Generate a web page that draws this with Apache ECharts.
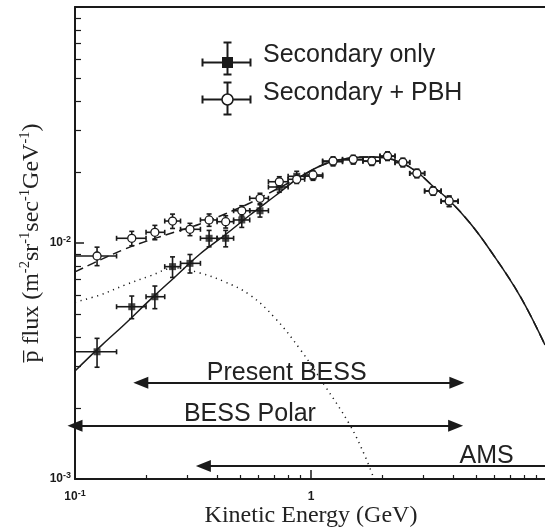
<!DOCTYPE html>
<html>
<head>
<meta charset="utf-8">
<script src="https://cdn.jsdelivr.net/npm/echarts@6/dist/echarts.min.js"></script>
<style>
html,body{margin:0;padding:0;background:#fff;}
#chart{width:545px;height:529px;}
</style>
</head>
<body>
<div id="chart"></div>
<script>
// ---- data ----
const energy = [0.124, 0.174, 0.218, 0.259, 0.307, 0.370, 0.435, 0.509, 0.608, 0.734, 0.870, 1.02, 1.24, 1.51, 1.81, 2.11, 2.45, 2.81, 3.29, 3.85];
const binLow  = [0.10, 0.15, 0.20, 0.24, 0.28, 0.34, 0.40, 0.47, 0.55, 0.66, 0.80, 0.94, 1.12, 1.36, 1.66, 1.96, 2.27, 2.62, 3.03, 3.56];
const binHigh = [0.15, 0.20, 0.24, 0.28, 0.34, 0.40, 0.47, 0.55, 0.66, 0.80, 0.94, 1.12, 1.36, 1.66, 1.96, 2.27, 2.62, 3.03, 3.56, 4.20];
const fluxSecondary = [0.00346, 0.00537, 0.00592, 0.00794, 0.00820, 0.01047, 0.01047, 0.01252, 0.01370, 0.01727, 0.01917, 0.0192, 0.0221, 0.0225, 0.0222, 0.0233, 0.0219, 0.0197, 0.0166, 0.0150];
const errSecondary  = [0.14, 0.11, 0.11, 0.10, 0.09, 0.08, 0.08, 0.07, 0.06, 0.05, 0.05, 0.04, 0.04, 0.04, 0.04, 0.04, 0.04, 0.04, 0.04, 0.05];
const fluxPBH = [0.00881, 0.01047, 0.01110, 0.01239, 0.01143, 0.01252, 0.01231, 0.01370, 0.01547, 0.01818, 0.01862, 0.01942, 0.02226, 0.02263, 0.02226, 0.02337, 0.02198, 0.01974, 0.01661, 0.01507];
const errPBH  = [0.09, 0.07, 0.07, 0.07, 0.06, 0.06, 0.06, 0.05, 0.05, 0.05, 0.04, 0.04, 0.04, 0.04, 0.04, 0.04, 0.04, 0.04, 0.04, 0.05];

// model curves
const curveSecE = [0.1, 0.1276, 0.1628, 0.2078, 0.2652, 0.3386, 0.4321, 0.5514, 0.7038, 0.8982, 1.146, 1.463, 1.744, 2.058, 2.383, 2.813, 3.353, 3.882, 4.717, 5.734, 7.686, 9.806];
const curveSecF = [0.00287, 0.00363, 0.00454, 0.00574, 0.00718, 0.00898, 0.01081, 0.01314, 0.01582, 0.01904, 0.02162, 0.02292, 0.02314, 0.02292, 0.02204, 0.01999, 0.01710, 0.01507, 0.01215, 0.00934, 0.00596, 0.00370];
const curveTotE = [0.1, 0.1276, 0.1628, 0.2078, 0.2652, 0.3386, 0.4321, 0.5514, 0.7038, 0.8982, 1.146, 1.463, 1.744, 2.058, 2.383, 2.813, 3.353, 3.882, 4.717, 5.734, 7.686, 9.806];
const curveTotF = [0.00754, 0.00847, 0.00943, 0.01030, 0.01113, 0.01204, 0.01327, 0.01477, 0.01677, 0.01904, 0.02162, 0.02292, 0.02314, 0.02292, 0.02204, 0.01999, 0.01710, 0.01507, 0.01215, 0.00934, 0.00596, 0.00370];
const curvePbhE = [0.1, 0.1276, 0.1628, 0.2078, 0.2652, 0.3386, 0.4321, 0.5514, 0.7038, 0.8982, 1.146, 1.463, 1.694, 1.849];
const curvePbhF = [0.00562, 0.00602, 0.00664, 0.00725, 0.00784, 0.00746, 0.00684, 0.00602, 0.00481, 0.00355, 0.00248, 0.00169, 0.00125, 0.00100];

// experiment ranges (arrows)
const rangeNames = ['Present BESS', 'BESS Polar', 'AMS'];
const rangeFrom  = [0.19, 0.10, 0.35];
const rangeTo    = [4.15, 4.10, 10];
const rangeFlux  = [0.00256, 0.00168, 0.001135];
const rangeLabelE = [0.789, 0.551, 5.55];
const rangeLabelF = [0.00282, 0.00188, 0.00125];

// axes ticks
const xMajorTicks = [0.1, 1, 10];
const xLabelTicks = [0.1, 1];
const xMinorTicks = [0.2, 0.3, 0.4, 0.5, 0.6, 0.7, 0.8, 0.9, 2, 3, 4, 5, 6, 7, 8, 9];
const yMajorTicks = [0.001, 0.01, 0.1];
const yLabelTicks = [0.001, 0.01];
const yMinorTicks = [0.002, 0.003, 0.004, 0.005, 0.006, 0.007, 0.008, 0.009, 0.02, 0.03, 0.04, 0.05, 0.06, 0.07, 0.08, 0.09];

const INK = '#1a1a1a';
const chart = echarts.init(document.getElementById('chart'), null, {renderer: 'canvas'});

function tickFmt(v) {
  if (Math.abs(v - 1) < 1e-9) return '{b|1}';
  const e = Math.round(Math.log10(v));
  return '{b|10}{s|' + e + '}';
}
const tickRich = {
  b: {fontFamily: 'Liberation Sans', fontWeight: 'bold', fontSize: 12, color: INK, lineHeight: 16},
  s: {fontFamily: 'Liberation Sans', fontWeight: 'bold', fontSize: 9, color: INK, lineHeight: 10, verticalAlign: 'top'}
};

function errData(flux, err) {
  return energy.map((e, i) => [e, flux[i], binLow[i], binHigh[i], flux[i] * (1 - err[i]), flux[i] * (1 + err[i])]);
}
function renderErr(params, api) {
  const x = api.value(0), y = api.value(1);
  const pl = api.coord([api.value(2), y]);
  const ph = api.coord([api.value(3), y]);
  const pb = api.coord([x, api.value(4)]);
  const pt = api.coord([x, api.value(5)]);
  const cap = 2.5;
  const st = {stroke: INK, lineWidth: 1.6};
  const L = (x1, y1, x2, y2) => ({type: 'line', shape: {x1, y1, x2, y2}, style: st});
  return {
    type: 'group',
    children: [
      L(pl[0], pl[1], ph[0], ph[1]),
      L(pb[0], pb[1], pt[0], pt[1]),
      L(pl[0], pl[1] - cap, pl[0], pl[1] + cap),
      L(ph[0], ph[1] - cap, ph[0], ph[1] + cap),
      L(pb[0] - cap, pb[1], pb[0] + cap, pb[1]),
      L(pt[0] - cap, pt[1], pt[0] + cap, pt[1])
    ]
  };
}
const zip = (a, b) => a.map((v, i) => [v, b[i]]);

const baseX = {type: 'log', logBase: 10, min: 0.1, max: 10, gridIndex: 0, splitLine: {show: false}};
const baseY = {type: 'log', logBase: 10, min: 0.001, max: 0.1, gridIndex: 0, splitLine: {show: false}};

const option = {
  animation: false,
  backgroundColor: '#fff',
  grid: {left: 75, top: 7, right: -2, bottom: 50, containLabel: false, outerBoundsMode: 'none'},
  xAxis: [
    Object.assign({}, baseX, {
      position: 'bottom',
      axisLine: {show: true, lineStyle: {color: INK, width: 2}},
      axisTick: {show: true, inside: true, length: 9, customValues: xMajorTicks, lineStyle: {color: INK, width: 1.5}},
      axisLabel: {show: true, customValues: xLabelTicks, formatter: tickFmt, rich: tickRich, margin: 10},
      name: 'Kinetic Energy (GeV)', nameLocation: 'middle', nameGap: 25, nameMoveOverlap: false,
      nameTextStyle: {fontFamily: 'Liberation Serif', fontSize: 24, color: '#222'}
    }),
    Object.assign({}, baseX, {
      position: 'bottom',
      axisLine: {show: false},
      axisTick: {show: true, inside: true, length: 4, customValues: xMinorTicks, lineStyle: {color: INK, width: 1.2}},
      axisLabel: {show: false}
    }),
    Object.assign({}, baseX, {
      position: 'top',
      axisLine: {show: true, lineStyle: {color: INK, width: 2}},
      axisTick: {show: false},
      axisLabel: {show: false}
    })
  ],
  yAxis: [
    Object.assign({}, baseY, {
      position: 'left',
      axisLine: {show: true, lineStyle: {color: INK, width: 2}},
      axisTick: {show: true, inside: true, length: 9, customValues: yMajorTicks, lineStyle: {color: INK, width: 1.5}},
      axisLabel: {show: true, customValues: yLabelTicks, formatter: tickFmt, rich: tickRich, margin: 4},
      name: '{p|p\u0305 flux (m}{s|-2}{p|sr}{s|-1}{p|sec}{s|-1}{p|GeV}{s|-1}{p|)}',
      nameLocation: 'middle', nameGap: 30, nameRotate: 90, nameMoveOverlap: false,
      nameTextStyle: {
        rich: {
          p: {fontFamily: 'Liberation Serif', fontSize: 24, color: '#222', lineHeight: 27},
          s: {fontFamily: 'Liberation Serif', fontSize: 14.5, color: '#222', lineHeight: 14, verticalAlign: 'top'}
        }
      }
    }),
    Object.assign({}, baseY, {
      position: 'left',
      axisLine: {show: false},
      axisTick: {show: true, inside: true, length: 6, customValues: yMinorTicks, lineStyle: {color: INK, width: 1.2}},
      axisLabel: {show: false}
    })
  ],
  series: [
    {
      name: 'PBH only', type: 'line', data: zip(curvePbhE, curvePbhF), showSymbol: false, smooth: 0.4,
      lineStyle: {color: INK, width: 1.5, type: [1.2, 4.5]}, z: 2, silent: true
    },
    {
      name: 'Secondary + PBH model', type: 'line', data: zip(curveTotE, curveTotF), showSymbol: false, smooth: 0.4,
      lineStyle: {color: INK, width: 1.5, type: [9, 5]}, z: 2, silent: true
    },
    {
      name: 'Secondary model', type: 'line', data: zip(curveSecE, curveSecF), showSymbol: false, smooth: 0.4,
      lineStyle: {color: INK, width: 1.5, type: 'solid'}, z: 2, silent: true
    },
    {
      name: 'ranges', type: 'line', data: [], silent: true, z: 3,
      markLine: {
        silent: true, animation: false,
        symbolSize: [12, 15],
        lineStyle: {color: INK, width: 2, type: 'solid'},
        label: {show: false},
        data: rangeNames.map((n, i) => [
          {coord: [rangeFrom[i], rangeFlux[i]], symbol: 'triangle'},
          {coord: [rangeTo[i], rangeFlux[i]], symbol: i === 2 ? 'none' : 'triangle'}
        ])
      }
    },
    {
      name: 'rangeLabels', type: 'scatter', silent: true, z: 3,
      data: rangeNames.map((n, i) => ({name: n, value: [rangeLabelE[i], rangeLabelF[i]]})),
      symbolSize: 1, itemStyle: {color: 'rgba(0,0,0,0)'},
      label: {show: true, position: 'inside', formatter: p => p.name, opacity: 1, textBorderWidth: 0,
        fontFamily: 'Liberation Sans', fontSize: 25, color: '#222'}
    },
    {
      name: 'Secondary only err', type: 'custom', renderItem: renderErr, data: errData(fluxSecondary, errSecondary),
      encode: {x: 0, y: 1}, z: 4, silent: true
    },
    {
      name: 'Secondary only', type: 'scatter', data: zip(energy, fluxSecondary), symbol: 'rect', symbolSize: 7,
      itemStyle: {color: INK}, z: 5, silent: true
    },
    {
      name: 'Secondary + PBH err', type: 'custom', renderItem: renderErr, data: errData(fluxPBH, errPBH),
      encode: {x: 0, y: 1}, z: 6, silent: true
    },
    {
      name: 'Secondary + PBH', type: 'scatter', data: zip(energy, fluxPBH), symbol: 'circle', symbolSize: 8,
      itemStyle: {color: '#fff', borderColor: INK, borderWidth: 1.3, opacity: 1}, z: 7, silent: true
    }
  ],
  graphic: [
    // legend row 1
    {type: 'group', left: 200, top: 40, silent: true, children: [
      {type: 'line', shape: {x1: 0, y1: 20, x2: 48, y2: 20}, style: {stroke: INK, lineWidth: 2}},
      {type: 'line', shape: {x1: 0, y1: 16, x2: 0, y2: 24}, style: {stroke: INK, lineWidth: 2}},
      {type: 'line', shape: {x1: 48, y1: 16, x2: 48, y2: 24}, style: {stroke: INK, lineWidth: 2}},
      {type: 'line', shape: {x1: 25, y1: 0, x2: 25, y2: 32}, style: {stroke: INK, lineWidth: 2}},
      {type: 'line', shape: {x1: 21, y1: 0, x2: 29, y2: 0}, style: {stroke: INK, lineWidth: 2}},
      {type: 'line', shape: {x1: 21, y1: 32, x2: 29, y2: 32}, style: {stroke: INK, lineWidth: 2}},
      {type: 'rect', shape: {x: 19.5, y: 14.5, width: 11, height: 11}, style: {fill: INK}}
    ]},
    {type: 'text', left: 263, top: 43, silent: true,
      style: {text: 'Secondary only', fontFamily: 'Liberation Sans', fontSize: 25, fill: '#222'}},
    // legend row 2
    {type: 'group', left: 200, top: 80, silent: true, children: [
      {type: 'line', shape: {x1: 0, y1: 17, x2: 48, y2: 17}, style: {stroke: INK, lineWidth: 2}},
      {type: 'line', shape: {x1: 0, y1: 13, x2: 0, y2: 21}, style: {stroke: INK, lineWidth: 2}},
      {type: 'line', shape: {x1: 48, y1: 13, x2: 48, y2: 21}, style: {stroke: INK, lineWidth: 2}},
      {type: 'line', shape: {x1: 25, y1: 0, x2: 25, y2: 32}, style: {stroke: INK, lineWidth: 2}},
      {type: 'line', shape: {x1: 21, y1: 0, x2: 29, y2: 0}, style: {stroke: INK, lineWidth: 2}},
      {type: 'line', shape: {x1: 21, y1: 32, x2: 29, y2: 32}, style: {stroke: INK, lineWidth: 2}},
      {type: 'circle', shape: {cx: 25, cy: 17, r: 5.5}, style: {fill: '#fff', stroke: INK, lineWidth: 1.5}}
    ]},
    {type: 'text', left: 263, top: 81, silent: true,
      style: {text: 'Secondary + PBH', fontFamily: 'Liberation Sans', fontSize: 25, fill: '#222'}}
  ]
};
chart.setOption(option);
</script>
</body>
</html>
